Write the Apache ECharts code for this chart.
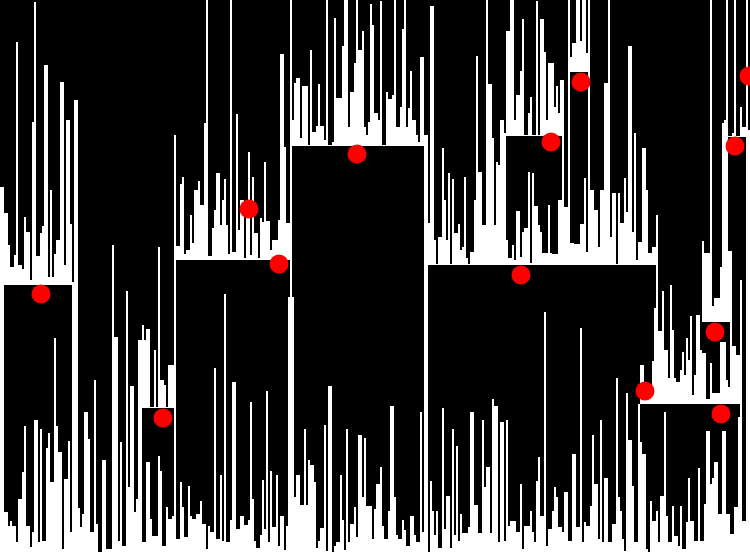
<!DOCTYPE html>
<html><head><meta charset="utf-8"><style>html,body{margin:0;padding:0;background:#000}#c{width:750px;height:554px}</style>
<script src="https://cdn.jsdelivr.net/npm/echarts@6/dist/echarts.min.js"></script></head><body><div id="c"></div><script>
const SCALE_MAX = 554;
const lowerLevels = [187,187,512,512,526,521,526,526,542,499,499,472,426,526,526,547,532,420,420,542,429,541,541,448,433,482,482,338,426,452,452,549,479,479,441,532,285,100,100,508,527,514,412,412,439,532,532,380,524,552,552,460,460,549,549,549,245,337,337,541,442,546,546,291,487,386,386,512,499,340,340,542,542,462,462,519,536,536,536,456,471,546,546,507,519,519,516,245,539,539,482,507,537,537,486,516,519,519,514,514,501,524,524,549,526,532,532,368,539,539,475,541,294,542,542,520,382,382,529,529,516,516,525,525,520,
402,499,541,548,548,535,480,529,391,542,471,527,527,475,546,516,516,550,526,297,0,297,497,475,475,505,505,429,505,460,465,465,482,548,541,528,528,425,551,386,386,552,546,542,542,475,520,550,429,542,524,524,507,537,435,435,497,438,506,506,506,539,509,484,484,467,526,539,539,511,406,406,497,535,539,539,520,530,546,546,516,516,535,542,542,412,532,146,135,552,481,511,535,511,548,548,408,529,496,496,548,429,535,446,541,514,533,533,533,527,412,412,505,505,533,533,420,487,467,467,533,399,406,406,542,
422,422,541,420,526,521,521,521,532,532,484,549,526,526,526,511,532,542,481,457,516,516,312,546,529,529,511,487,497,527,527,532,492,492,541,541,454,454,527,527,328,542,522,526,526,506,435,484,484,539,420,542,478,478,542,542,524,524,378,497,511,539,551,393,440,440,486,542,542,404,442,454,454,549,552,501,521,521,511,542,496,496,412,516,542,542,506,536,536,546,506,549,549,522,478,521,521,541,541,468,541,541,504,431,431,484,478,462,462,514,514,431,431,514,514,534,534,507,507,417,280,521,521,0,130];

const band1 = [187,187,213,213,245,267,267,255,42,265,265,269,217,232,232,280,122,2,256,256,233,226,65,65,277,190,277,254,240,240,82,82,265,120,120,224,282];
const band2 = [325,340,329,329,407,407,350,407,247,380,380,385,407,365,365,365];
const band3 = [135,246,246,184,177,254,250,250,215,243,190,190,181,205,205,123,0,256,256,228,210,173,173,225,200,179,225,254,0,252,252,114,230,200,200,258,200,152,255,177,233,233,258,218,222,162,221,221,250,240,240,240,220,54,54,147,223,223];
const band4 = [120,83,78,78,138,86,86,86,145,50,132,132,126,84,126,126,140,0,145,145,142,18,98,98,98,46,0,0,127,92,92,63,0,50,50,31,127,135,122,4,25,113,113,120,1,145,145,92,99,99,95,0,127,127,107,29,0,127,108,71,120,120,135,142,57,57,135];
const band5 = [135,223,6,6,240,264,237,237,148,200,240,173,264,179,233,233,224,250,247,177,258,264,252,252,200,56,172,172,225,225,0,84,84,138,225,162,165,120,120,133,240,258,258,245,260,211,211,257,232,228,228,172,263,173,206,206,225,232,253,253,253,205,253,254,254,254,200,200,80,207,207,0,243,243,244,244,244,224,224,178,252,0,190,190,210,210,247,190,190,83,83,0,237,193,193,264,193,223,223,178,212,46,46,232,133,260,242,242,148,148,190,253,253,247,247];
const band6 = [31,31,0,0,120,95,95,71,19,135,135,113,97,135,135,1,135,19,19,52,120,63,63,63,107,86,113,80];
const band7 = [57,43,43,0,0,41,0,0,53];
const band8 = [241,253,253,253,0,306,298,298,298,267,123,123,0,251];
const band9 = [365,365,385,385,385,385,361,308,215,331,331,291,350,350,378,285,330,378,382,382,370,352,375,338,360,316,395,375,315,315,350,353,353,399,399,363,393,393,393,393,342,342,342,380,387,251,346,346,355,355];
const band10 = [120,0,136,136,133,0,136,136,107,127,127];

const blockNames = ['b7','b6','b10','b8','b2','b1','b3','b4','b5','b9'];
const blockStart = [285,253,362,351,71,0,87,146,213,320];
const blockLevel = [72,136,137,322,408,285,260,146,265,404];
const blockBands = [band7,band6,band10,band8,band2,band1,band3,band4,band5,band9];

const dotCols = [20,81,124,139,178,275,290,260,322,357,360,367,374];
const dotLevels = [294,418,209,264,154,142,82,275,391,332,414,146,76];

const N = lowerLevels.length;
const categories = lowerLevels.map((_, i) => String(i));
const series = [];
blockNames.forEach((name, k) => {
  const base = new Array(N).fill('-'), spike = new Array(N).fill('-');
  blockBands[k].forEach((top, j) => {
    const c = blockStart[k] + j;
    base[c] = SCALE_MAX - blockLevel[k];
    spike[c] = Math.max(1, blockLevel[k] - top);
  });
  const common = {type:'bar', stack:name, barWidth:'100%', barGap:'-100%', silent:true, animation:false, large:false};
  series.push(Object.assign({name:name+'-block', data:base, itemStyle:{color:'#000'}}, common));
  series.push(Object.assign({name:name+'-spikes', data:spike, itemStyle:{color:'#fff'}}, common));
});
series.push({name:'lower', type:'bar', barWidth:'100%', barGap:'-100%', stack:'lower', animation:false, silent:true,
  data:lowerLevels.map(v => SCALE_MAX - v), itemStyle:{color:'#fff'}});
series.push({name:'points', type:'scatter', symbol:'circle', symbolSize:19, z:10, animation:false, silent:true,
  data:dotCols.map((c,i)=>[c, SCALE_MAX - dotLevels[i]]), itemStyle:{color:'#ff0000', opacity:1}});

const chart = echarts.init(document.getElementById('c'), null, {renderer:'canvas', width:750, height:554});
chart.setOption({
  backgroundColor:'#000', animation:false, legend:{show:false}, tooltip:{show:false},
  grid:{left:0,right:0,top:0,bottom:0},
  xAxis:{type:'category', data:categories, show:false, boundaryGap:true},
  yAxis:{type:'value', min:0, max:SCALE_MAX, show:false},
  series
});
</script></body></html>
